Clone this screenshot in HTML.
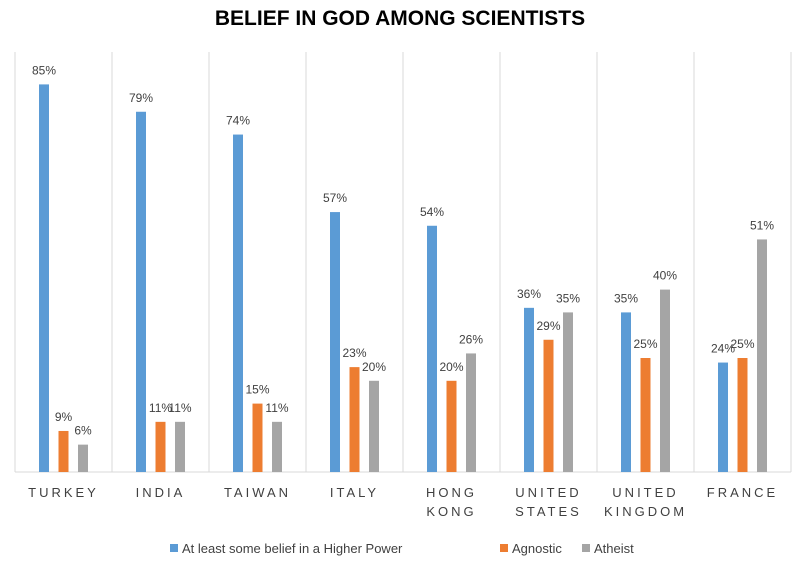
<!DOCTYPE html>
<html><head><meta charset="utf-8"><style>
body{margin:0;background:#fff;width:800px;height:568px;overflow:hidden;font-family:"Liberation Sans",sans-serif}
</style></head><body>
<svg id="c" width="800" height="568" xmlns="http://www.w3.org/2000/svg">
<text x="400" y="25" text-anchor="middle" font-size="21" font-weight="bold" fill="#000">BELIEF IN GOD AMONG SCIENTISTS</text>
</svg>
<script>
const categories=[["TURKEY"],["INDIA"],["TAIWAN"],["ITALY"],["HONG","KONG"],["UNITED","STATES"],["UNITED","KINGDOM"],["FRANCE"]];
const belief=[85,79,74,57,54,36,35,24];
const agnostic=[9,11,15,23,20,29,25,25];
const atheist=[6,11,11,20,26,35,40,51];
const seriesNames=["At least some belief in a Higher Power","Agnostic","Atheist"];
const colors=["#5b9bd5","#ed7d31","#a5a5a5"];
const svg=document.getElementById('c');
const NS="http://www.w3.org/2000/svg";
const x0=15,cw=97,base=472,ppu=4.56;
function y(v){return base-v*ppu;}
function cx(i){return x0+i*cw;}
function mk(t,a){const e=document.createElementNS(NS,t);for(const k in a)e.setAttribute(k,a[k]);svg.appendChild(e);return e;}
for(let i=0;i<=categories.length;i++){
 const l=mk('line',{x1:cx(i),x2:cx(i),y1:52,y2:base,stroke:'#d9d9d9','stroke-width':1});
 
 
}
const ax=mk('line',{x1:x0,x2:cx(categories.length),y1:base,y2:base,stroke:'#d9d9d9','stroke-width':1});


const series=[belief,agnostic,atheist];
const slugs=['belief','agnostic','atheist'];
categories.forEach((c,i)=>{
 series.forEach((s,j)=>{
  const bx=cx(i)+24+j*19.5;
  const r=mk('rect',{x:bx,y:y(s[i]),width:10,height:s[i]*ppu,fill:colors[j]});
  
  
  const t=mk('text',{x:bx+5,y:y(s[i])-10,'text-anchor':'middle','font-size':12,fill:'#404040'});
  t.textContent=s[i]+'%';
  
  
 });
 c.forEach((w,k)=>{
  const t=mk('text',{x:cx(i)+cw/2,y:497+k*19,'text-anchor':'middle','font-size':13,'letter-spacing':'3',fill:'#404040'});
  t.textContent=w;
  
  
 });
});
const lx=[170,500,582];
seriesNames.forEach((n,j)=>{
 const r=mk('rect',{x:lx[j],y:544,width:8,height:8,fill:colors[j]});
 
 
 const t=mk('text',{x:lx[j]+12,y:553,'font-size':13,fill:'#404040'});
 t.textContent=n;
 
 
});
</script>
</body></html>
